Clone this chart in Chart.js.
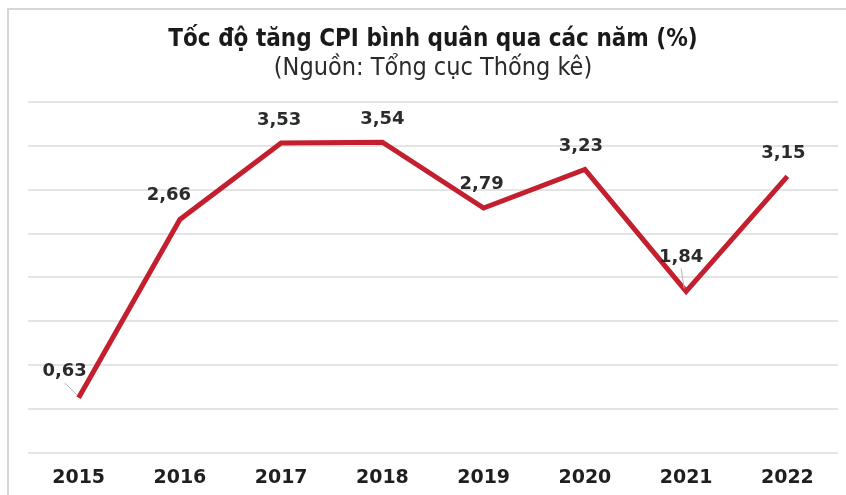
<!DOCTYPE html>
<html>
<head>
<meta charset="utf-8">
<script src="https://cdn.jsdelivr.net/npm/chart.js@4"></script>
<style>
  html, body { margin: 0; padding: 0; background: #fff; }
  #cpi { display: block; }
</style>
</head>
<body>
<canvas id="cpi" width="846" height="495"></canvas>
<script>
// Chart data
const years = ["2015", "2016", "2017", "2018", "2019", "2020", "2021", "2022"];
const cpiGrowth = [0.63, 2.66, 3.53, 3.54, 2.79, 3.23, 1.84, 3.15];

const titleText = "Tốc độ tăng CPI bình quân qua các năm (%)";
const sourceText = "(Nguồn: Tổng cục Thống kê)";

const narrowFont = "'Liberation Sans Narrow', 'DejaVu Sans Condensed', sans-serif";

// Draws the value above each point, with comma decimals
const valueLabels = {
  id: "valueLabels",
  afterDatasetsDraw(chart, args, opts) {
    const ctx = chart.ctx;
    const meta = chart.getDatasetMeta(0);
    ctx.save();
    ctx.font = "bold 18px 'DejaVu Sans', sans-serif";
    ctx.fillStyle = "#2b2b2b";
    ctx.textAlign = "center";
    ctx.textBaseline = "middle";
    meta.data.forEach(function (pt, i) {
      const nudge = opts.nudge[i] || [-3, -23];
      const lx = pt.x + nudge[0];
      const ly = pt.y + nudge[1];
      if (opts.leader.indexOf(i) >= 0) { // small pointer line
        ctx.strokeStyle = "#b8b8b8";
        ctx.lineWidth = 1;
        ctx.beginPath();
        ctx.moveTo(lx, ly + 11);
        ctx.lineTo(pt.x - 2, pt.y - 3);
        ctx.stroke();
      }
      const v = chart.data.datasets[0].data[i].toFixed(2).replace(".", ",");
      ctx.fillText(v, lx, ly);
    });
    ctx.restore();
  }
};

// Light frame on top and left like the source image
const frame = {
  id: "frame",
  beforeDraw(chart) {
    const ctx = chart.ctx;
    ctx.save();
    ctx.fillStyle = "#fff";
    ctx.fillRect(0, 0, chart.width, chart.height);
    ctx.strokeStyle = "#d6d6d6";
    ctx.lineWidth = 2;
    ctx.beginPath();
    ctx.moveTo(8, chart.height);
    ctx.lineTo(8, 9);
    ctx.lineTo(chart.width, 9);
    ctx.stroke();
    ctx.restore();
  }
};

new Chart(document.getElementById("cpi"), {
  type: "line",
  data: {
    labels: years,
    datasets: [{
      label: "CPI",
      data: cpiGrowth,
      borderColor: "#c41f2e",
      borderWidth: 5,
      pointRadius: 0,
      tension: 0,
      fill: false
    }]
  },
  options: {
    responsive: false,
    animation: false,
    devicePixelRatio: 1,
    layout: { padding: { left: 28, right: 8, top: 0, bottom: 0 } },
    plugins: {
      legend: { display: false },
      tooltip: { enabled: false },
      title: {
        display: true,
        text: titleText,
        color: "#1a1a1a",
        font: { family: narrowFont, size: 24, weight: "bold" },
        padding: { top: 25, bottom: 0 }
      },
      subtitle: {
        display: true,
        text: sourceText,
        color: "#2a2a2a",
        font: { family: narrowFont, size: 25, weight: "normal" },
        padding: { top: 0, bottom: 18 }
      },
      valueLabels: {
        nudge: [[-14, -26], [-11, -24], [-2, -23], [0, -23], [-2, -24], [-4, -23], [-5, -34], [-4, -23]],
        leader: [0, 6]
      }
    },
    scales: {
      x: {
        offset: true,
        grid: { display: false },
        border: { display: false },
        ticks: {
          color: "#1f1f1f",
          padding: 6,
          font: { family: "'DejaVu Sans', sans-serif", size: 19, weight: "bold" }
        },
        afterFit(scale) { scale.height = 42; }
      },
      y: {
        min: 0,
        max: 4,
        border: { display: false },
        grid: { color: "#e4e4e4", lineWidth: 2, drawTicks: false },
        ticks: { stepSize: 0.5, display: false }
      }
    }
  },
  plugins: [frame, valueLabels]
});
</script>
</body>
</html>
